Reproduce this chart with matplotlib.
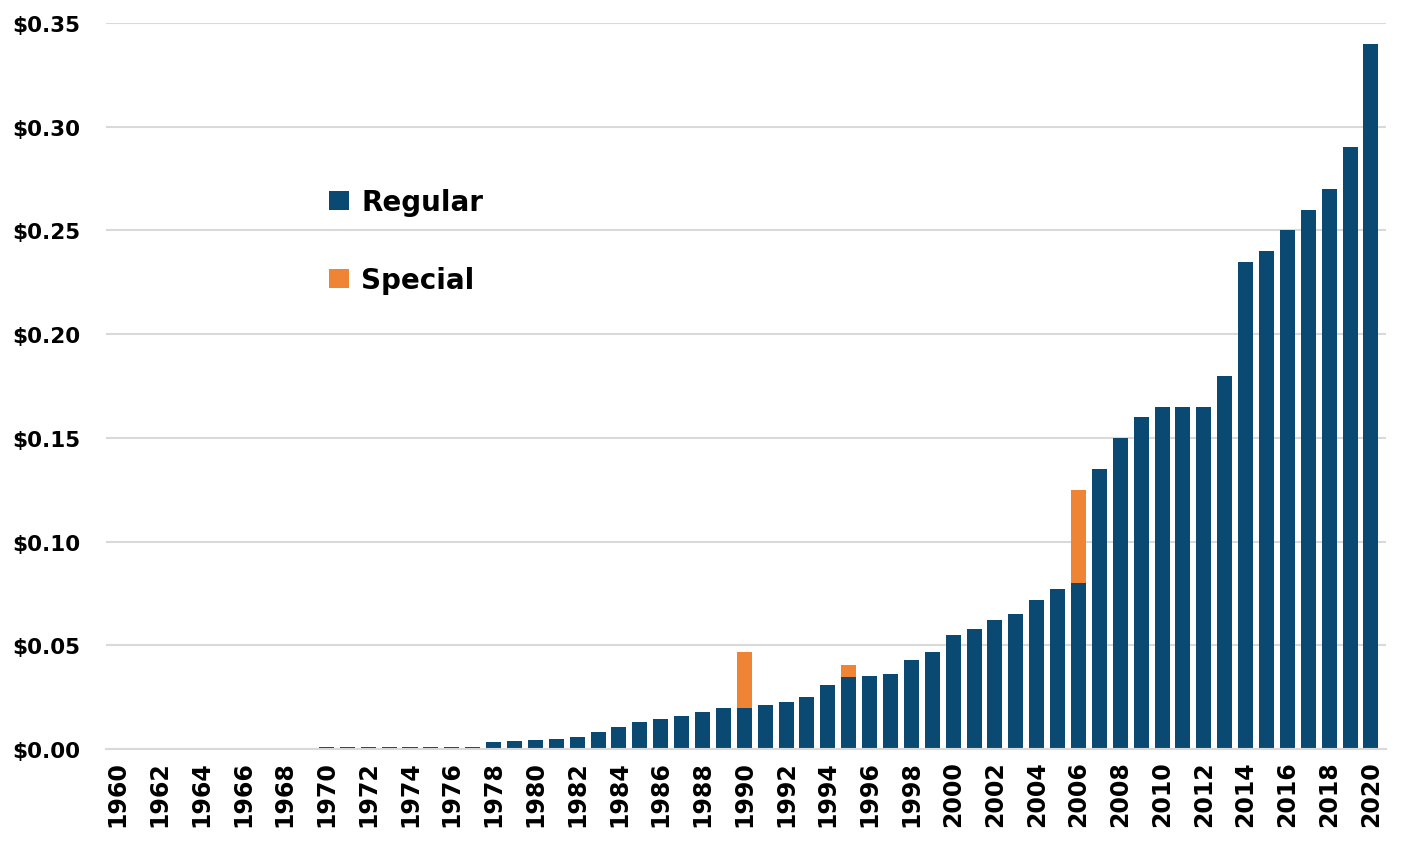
import matplotlib
matplotlib.use('Agg')
import matplotlib.pyplot as plt
import matplotlib.ticker as ticker

years = list(range(1960, 2021))

# regular dividend per year
regular = [
    0, 0, 0, 0, 0, 0, 0, 0, 0,                     # 1960-1968
    0.0006, 0.001, 0.001, 0.0012, 0.0012, 0.0012,  # 1969-1974
    0.0012, 0.0012, 0.0012,                        # 1975-1977
    0.0035, 0.004, 0.0045, 0.0047, 0.006, 0.008,   # 1978-1983
    0.0105, 0.013, 0.0145, 0.016, 0.018, 0.02,     # 1984-1989
    0.02, 0.021, 0.0225, 0.025, 0.031, 0.0347,     # 1990-1995
    0.035, 0.036, 0.043, 0.047, 0.055, 0.058,      # 1996-2001
    0.062, 0.065, 0.072, 0.077, 0.08, 0.135,       # 2002-2007
    0.15, 0.16, 0.165, 0.165, 0.165, 0.18,         # 2008-2013
    0.235, 0.24, 0.25, 0.26, 0.27, 0.29, 0.34,     # 2014-2020
]
special_years = [1990, 1995, 2006]
special_vals = [0.027, 0.006, 0.045]
special = [special_vals[special_years.index(y)] if y in special_years else 0 for y in years]

ytick_vals = [0, 0.05, 0.10, 0.15, 0.20, 0.25, 0.30, 0.35]

navy = '#0a4a72'
orange = '#ee8434'

fig = plt.figure(figsize=(14.01, 8.45), dpi=100)
ax = fig.add_axes([0.076, 0.1124, 0.913, 0.8592])

ax.bar(years, regular, width=0.72, color=navy, label='Regular', zorder=2)
ax.bar(years, special, width=0.72, bottom=regular, color=orange, label='Special', zorder=2)

ax.set_xlim(1959.47, 2020.7)
ax.set_ylim(0, 0.35)

ax.set_yticks(ytick_vals)
ax.yaxis.set_major_formatter(ticker.FuncFormatter(lambda v, p: '${:.2f}'.format(v)))
ax.set_xticks(years[::2])
ax.set_xticklabels([str(y) for y in years[::2]], rotation=90)

ax.tick_params(axis='both', length=0)
ax.tick_params(axis='y', labelsize=15.5, pad=19)
ax.tick_params(axis='x', labelsize=17, pad=8)
for lab in ax.get_xticklabels() + ax.get_yticklabels():
    lab.set_fontweight('bold')

ax.grid(axis='y', color='#d9d9d9', linewidth=1.5, zorder=0)
ax.set_axisbelow(True)
for s in ['top', 'right', 'left']:
    ax.spines[s].set_visible(False)
ax.spines['bottom'].set_color('#d9d9d9')
ax.spines['bottom'].set_linewidth(1.5)

leg = fig.legend(loc='upper left', bbox_to_anchor=(0.235, 0.776), frameon=False,
                 fontsize=20, handlelength=0.7, handleheight=0.7, handletextpad=0.45,
                 labelspacing=1.8, borderpad=0, borderaxespad=0)
for t in leg.get_texts():
    t.set_fontweight('bold')

plt.savefig('out.png', dpi=100)
